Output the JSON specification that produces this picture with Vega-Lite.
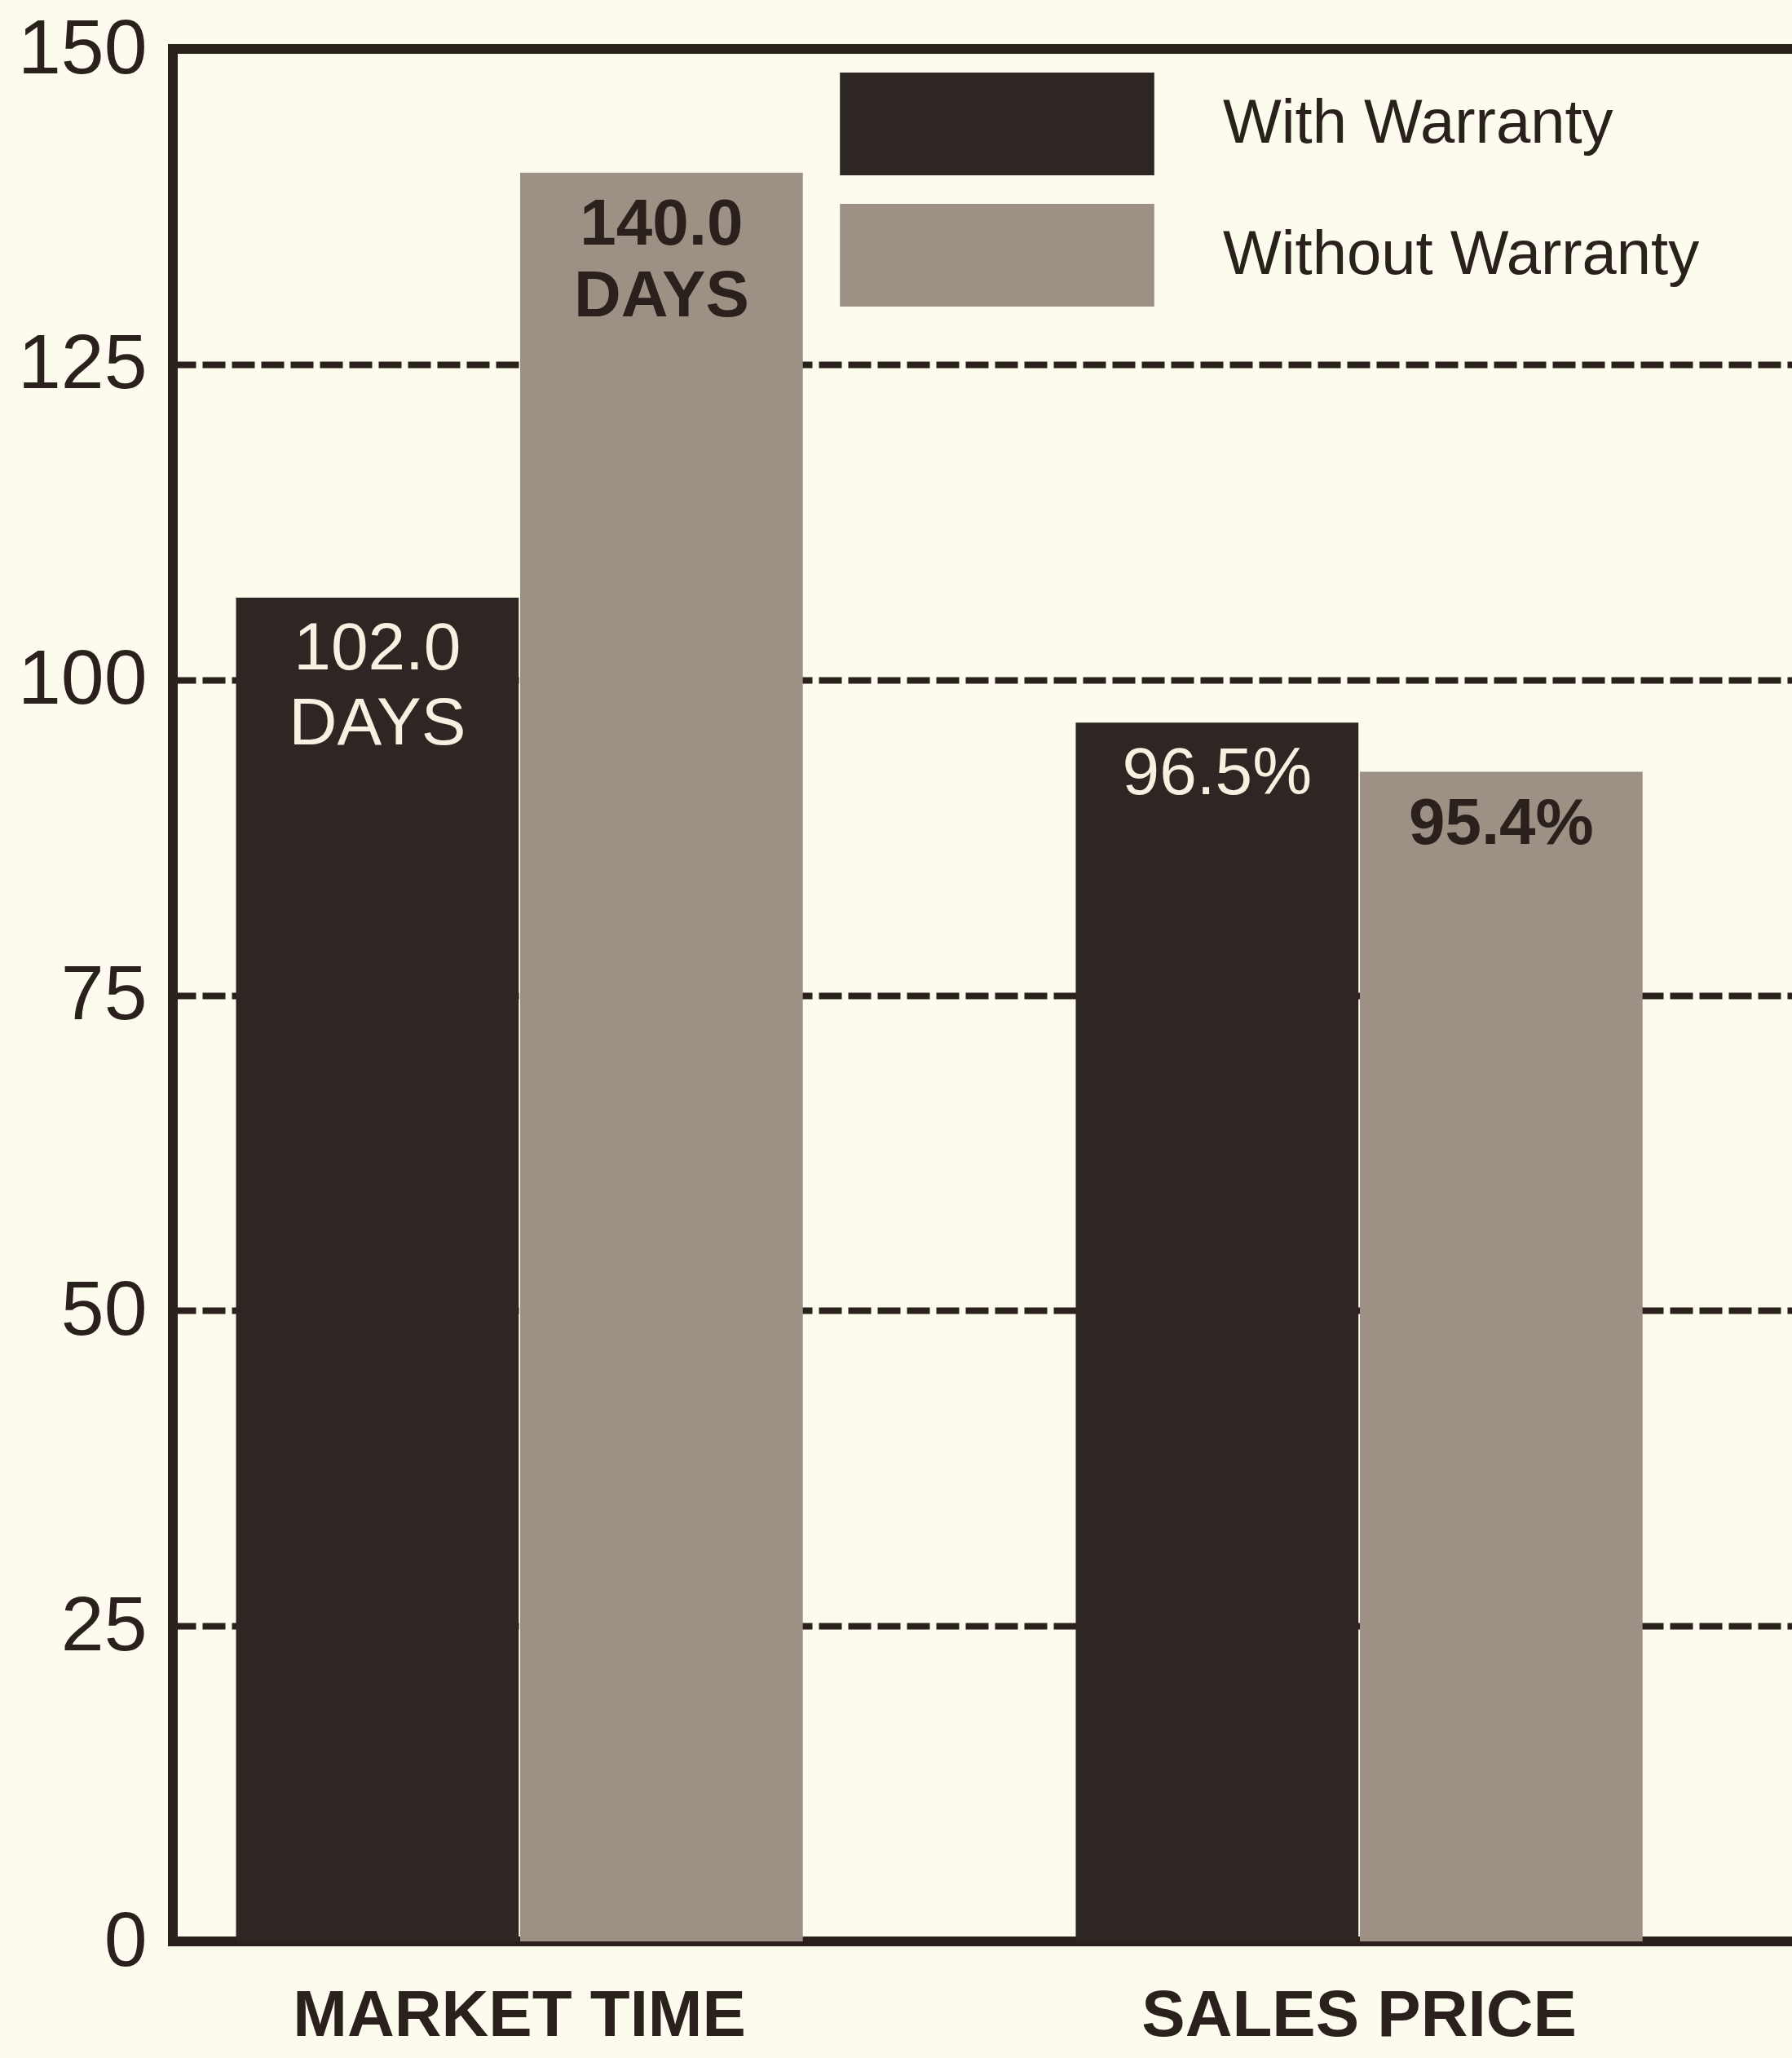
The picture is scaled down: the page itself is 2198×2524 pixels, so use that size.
{
  "$schema": "https://vega.github.io/schema/vega-lite/v6.json",
  "autosize": {"type": "none"},
  "width": 2000,
  "height": 2321,
  "padding": {"left": 212, "top": 60, "right": 0, "bottom": 143},
  "background": "#fcfbee",
  "data": {
    "values": [
      {"group": "MARKET TIME", "series": "With Warranty", "value": 106.5, "label": "102.0\nDAYS"},
      {"group": "MARKET TIME", "series": "Without Warranty", "value": 140.2, "label": "140.0\nDAYS"},
      {"group": "SALES PRICE", "series": "With Warranty", "value": 96.6, "label": "96.5%"},
      {"group": "SALES PRICE", "series": "Without Warranty", "value": 92.7, "label": "95.4%"}
    ]
  },
  "encoding": {
    "x": {
      "field": "group",
      "type": "nominal",
      "sort": ["MARKET TIME", "SALES PRICE"],
      "scale": {"paddingInner": 0.325, "paddingOuter": 0.1334, "align": 0.282},
      "axis": {
        "title": null,
        "labelAngle": 0,
        "domain": false,
        "ticks": false,
        "labelFont": "Liberation Sans",
        "labelFontWeight": "bold",
        "labelFontSize": 80,
        "labelColor": "#2a201c",
        "labelPadding": 52,
        "labelBaseline": "top",
        "labelLimit": 2000
      }
    },
    "xOffset": {
      "field": "series",
      "type": "nominal",
      "sort": ["With Warranty", "Without Warranty"],
      "scale": {"paddingInner": 0.005, "paddingOuter": 0}
    },
    "y": {
      "field": "value",
      "type": "quantitative",
      "scale": {"domain": [0, 150], "nice": false},
      "axis": {
        "title": null,
        "values": [0, 25, 50, 75, 100, 125, 150],
        "domain": false,
        "ticks": false,
        "labelFont": "Liberation Sans",
        "labelFontSize": 95,
        "labelColor": "#2a201c",
        "labelPadding": 32,
        "grid": true,
        "gridColor": "#2a201c",
        "gridWidth": 8,
        "gridDash": [28, 8],
        "gridOpacity": 1
      }
    }
  },
  "layer": [
    {
      "mark": {"type": "bar", "opacity": 1},
      "encoding": {
        "color": {
          "field": "series",
          "type": "nominal",
          "sort": ["With Warranty", "Without Warranty"],
          "scale": {"domain": ["With Warranty", "Without Warranty"], "range": ["#2e2622", "#9c9184"]},
          "legend": {
            "title": null,
            "orient": "none",
            "legendX": 948,
            "legendY": 29,
            "padding": 0,
            "symbolType": "M-3.06,-1H3.06V1H-3.06Z",
            "symbolSize": 15876,
            "symbolStrokeWidth": 0,
            "symbolOpacity": 1,
            "labelOffset": 214,
            "labelFont": "Liberation Sans",
            "labelFontSize": 76,
            "labelColor": "#2a201c",
            "labelLimit": 900,
            "rowPadding": 35
          }
        }
      }
    },
    {
      "transform": [{"filter": "datum.series == 'With Warranty'"}],
      "mark": {
        "type": "text",
        "baseline": "top",
        "align": "center",
        "dy": 23,
        "lineBreak": "\n",
        "lineHeight": 92,
        "font": "Liberation Sans",
        "fontSize": 82,
        "color": "#f7f1e1"
      },
      "encoding": {"text": {"field": "label"}}
    },
    {
      "transform": [{"filter": "datum.series == 'Without Warranty'"}],
      "mark": {
        "type": "text",
        "baseline": "top",
        "align": "center",
        "dy": 25,
        "lineBreak": "\n",
        "lineHeight": 88,
        "font": "Liberation Sans",
        "fontWeight": "bold",
        "fontSize": 80,
        "color": "#2a201c"
      },
      "encoding": {"text": {"field": "label"}}
    }
  ],
  "config": {
    "view": {"stroke": "#2a201c", "strokeWidth": 12},
    "axis": {"gridCap": "butt"}
  }
}
